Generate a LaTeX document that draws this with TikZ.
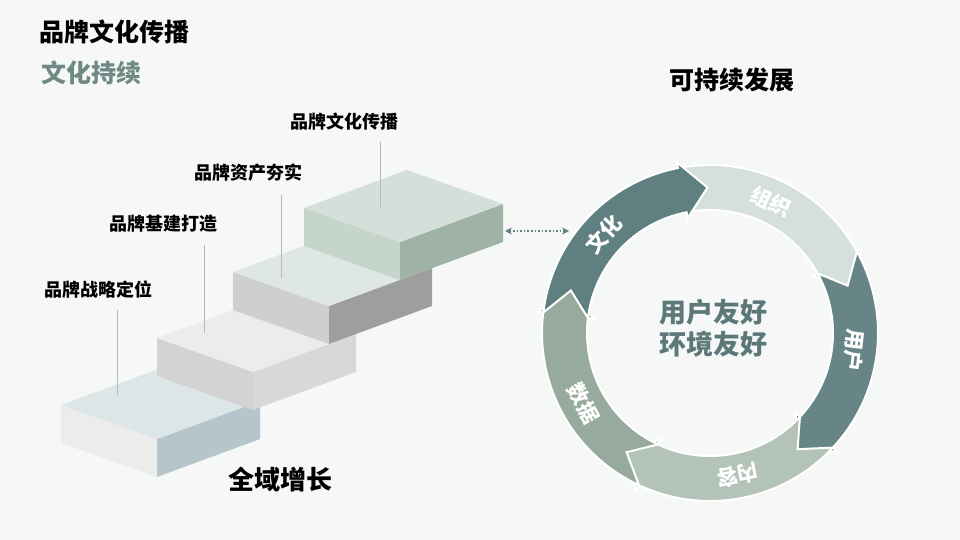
\documentclass[tikz,border=0pt]{standalone}
\usepackage{fontspec}
\setmainfont{Noto Sans CJK SC}
\usetikzlibrary{arrows.meta}
\definecolor{bg}{HTML}{F6F8F7}
\definecolor{dk}{HTML}{5F7F80}
\definecolor{dk2}{HTML}{678587}
\definecolor{lt}{HTML}{D5E0DE}
\definecolor{md}{HTML}{B3C3B8}
\definecolor{mg}{HTML}{96AB9D}
\definecolor{ctr}{HTML}{5D7878}
\definecolor{sub}{HTML}{6F8A85}
\definecolor{aT}{HTML}{DDE6E6}\definecolor{aL}{HTML}{ECECEC}\definecolor{aR}{HTML}{B5C5CB}
\definecolor{bT}{HTML}{ECECEC}\definecolor{bL}{HTML}{D3D3D3}\definecolor{bR}{HTML}{D8D8D8}
\definecolor{cT}{HTML}{DFE6E6}\definecolor{cL}{HTML}{CFCFCF}\definecolor{cR}{HTML}{9E9E9E}
\definecolor{dT}{HTML}{D4DFD9}\definecolor{dL}{HTML}{C5D5CB}\definecolor{dR}{HTML}{9FB2A6}
\tikzset{lbl/.style={font=\bfseries\fontsize{18}{20}\selectfont,text=black},
 lead/.style={draw=gray!55,line width=0.8pt},
 segtxt/.style={font=\bfseries\fontsize{21}{23}\selectfont,text=white}}
\newcommand{\stbox}[5]{% x y top left right
 \fill[#4] (#1,#2) -- ++(96,34) -- ++(0,38) -- ++(-96,-34) -- cycle;
 \fill[#5] (#1+96,#2+34) -- ++(103,-38) -- ++(0,38) -- ++(-103,38) -- cycle;
 \fill[#3] (#1,#2) -- ++(96,34) -- ++(103,-38) -- ++(-96,-34) -- cycle;}
\newcommand{\seg}[3]{%
 \fill[#3,draw=white,line width=2pt] plot[domain=#1:#2,samples=40] ({710+168*cos(\x)},{333-168*sin(\x)})
  -- ({710+174*cos(#2)},{333-174*sin(#2)}) -- ({710+145.5*cos(#2-10)},{333-145.5*sin(#2-10)})
  -- ({710+117*cos(#2)},{333-117*sin(#2)}) -- ({710+123*cos(#2)},{333-123*sin(#2)})
  -- plot[domain=#2:#1,samples=40] ({710+123*cos(\x)},{333-123*sin(\x)})
  -- ({710+145.5*cos(#1-10)},{333-145.5*sin(#1-10)}) -- cycle;}
\begin{document}
\begin{tikzpicture}[x=1pt,y=-1pt]
\fill[bg] (0,0) rectangle (960,540);
\useasboundingbox (0,0) rectangle (960,540);
\node[anchor=west,font=\bfseries\fontsize{25}{27}\selectfont] (t1) at (36,32) {品牌文化传播};
\node[anchor=west,font=\bfseries\fontsize{25}{27}\selectfont,text=sub] (t2) at (38,73) {文化持续};
\node[font=\bfseries\fontsize{25}{27}\selectfont] (t3) at (732,80) {可持续发展};
\node[font=\bfseries\fontsize{26}{28}\selectfont] (t4) at (280,480) {全域增长};
% stairs
\stbox{61}{405}{aT}{aL}{aR}
\stbox{157}{338}{bT}{bL}{bR}
\stbox{233}{272}{cT}{cL}{cR}
\stbox{304}{208}{dT}{dL}{dR}
\node[lbl] (l1) at (98,290) {品牌战略定位};
\node[lbl] (l2) at (163,224) {品牌基建打造};
\node[lbl] (l3) at (248,173) {品牌资产夯实};
\node[lbl] (l4) at (344,122) {品牌文化传播};
\coordinate (e1) at (117,395); \coordinate (e2) at (204,333);
\coordinate (e3) at (281,278); \coordinate (e4) at (380,207);
\draw[lead] (117,310) -- (e1);
\draw[lead] (204,245) -- (e2);
\draw[lead] (281,195) -- (e3);
\draw[lead] (380,142) -- (e4);
% cycle
\seg{101}{29}{lt}
\seg{29}{-43}{dk2}
\seg{-43}{-115}{md}
\seg{-115}{-187}{mg}
\seg{173}{101}{dk}
\node[segtxt,rotate=47] (s1) at ({710+145*cos(137)},{333-145*sin(137)}) {文化};
\node[segtxt,rotate=-25] (s2) at ({710+145*cos(65)},{333-145*sin(65)}) {组织};
\node[segtxt,rotate=-97] (s3) at ({710+145*cos(-7)},{333-145*sin(-7)}) {用户};
\node[segtxt,rotate=-169] (s4) at ({710+145*cos(-79)},{333-145*sin(-79)}) {内容};
\node[segtxt,rotate=-61] (s5) at ({710+145*cos(-151)},{333-145*sin(-151)}) {数据};
\node[font=\bfseries\fontsize{27}{30}\selectfont,text=ctr,align=center] (c) at (713,328) {用户友好\\[2pt]环境友好};
\coordinate (da) at (505,231); \coordinate (db) at (569,231);
\draw[dk,line width=1.6pt,dotted,{Stealth[length=7pt,width=7pt]}-{Stealth[length=7pt,width=7pt]}] (da) -- (db);
\end{tikzpicture}
\end{document}
